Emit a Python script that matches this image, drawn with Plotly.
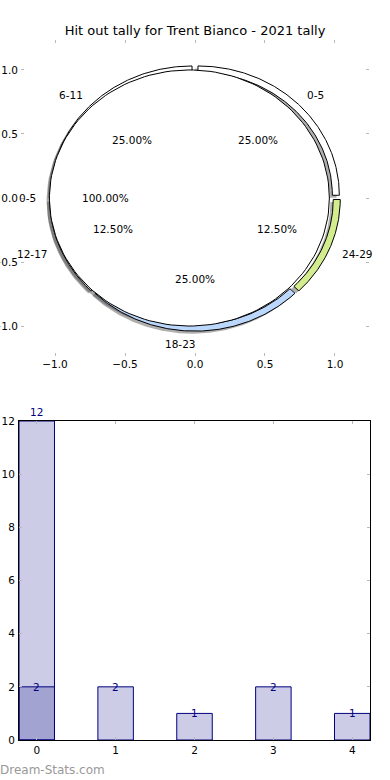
import numpy as np
import plotly.graph_objects as go

# ---------------- data ----------------
title_text = "Hit out tally for Trent Bianco - 2021 tally"
inner_labels = ["0-5"]
inner_values = [12]
outer_labels = ["0-5", "6-11", "12-17", "18-23", "24-29"]
outer_values = [2, 2, 1, 2, 1]
outer_colors = ["#ffffff", "#ffffff", "#ffffff", "#bcd7fc", "#d3ec8e"]
bar_x = [0, 1, 2, 3, 4]
bar_total = [12]          # first series (only at position 0)
bar_counts = [2, 2, 1, 2, 1]
pie_ticks = [-1.0, -0.5, 0.0, 0.5, 1.0]
bar_yticks = [0, 2, 4, 6, 8, 10, 12]

# ---------------- style ----------------
FONT = "DejaVu Sans"
INNER_R = 1.0
INNER_EXPLODE = 0.04
RING_OUT = 1.01
RING_W = 0.05
RING_EXPLODE = 0.03
SHADOW = (-0.02, -0.02)
NAVY = "#000080"

fig = go.Figure()


def wedge_xy(cx, cy, r_out, r_in, t1, t2, n=160):
    th = np.radians(np.linspace(t1, t2, n))
    xo = cx + r_out * np.cos(th)
    yo = cy + r_out * np.sin(th)
    if r_in <= 0:
        if abs(t2 - t1) >= 359.999:
            return list(xo), list(yo)
        return [cx] + list(xo) + [cx], [cy] + list(yo) + [cy]
    xi = cx + r_in * np.cos(th[::-1])
    yi = cy + r_in * np.sin(th[::-1])
    return list(xo) + list(xi) + [xo[0]], list(yo) + list(yi) + [yo[0]]


def pie_geometry(values, r_out, r_in, explode):
    tot = float(sum(values))
    out = []
    t = 0.0
    for v in values:
        t2 = t + 360.0 * v / tot
        mid = np.radians((t + t2) / 2)
        cx, cy = explode * np.cos(mid), explode * np.sin(mid)
        out.append((t, t2, mid, cx, cy, v / tot))
        t = t2
    return out


inner_geo = pie_geometry(inner_values, INNER_R, 0, INNER_EXPLODE)
outer_geo = pie_geometry(outer_values, RING_OUT, RING_OUT - RING_W, RING_EXPLODE)

# shadows (drawn below everything)
for (t1, t2, mid, cx, cy, f) in inner_geo:
    xs, ys = wedge_xy(cx + SHADOW[0], cy + SHADOW[1], INNER_R, 0, t1, t2)
    fig.add_trace(go.Scatter(x=xs, y=ys, fill="toself", mode="lines",
                             line=dict(width=0), fillcolor="rgba(77,77,77,0.5)",
                             hoverinfo="skip", showlegend=False, xaxis="x", yaxis="y"))
for (t1, t2, mid, cx, cy, f) in outer_geo:
    xs, ys = wedge_xy(cx + SHADOW[0], cy + SHADOW[1], RING_OUT, RING_OUT - RING_W, t1, t2)
    fig.add_trace(go.Scatter(x=xs, y=ys, fill="toself", mode="lines",
                             line=dict(width=0), fillcolor="rgba(77,77,77,0.45)",
                             hoverinfo="skip", showlegend=False, xaxis="x", yaxis="y"))

# outer ring
for (t1, t2, mid, cx, cy, f), col in zip(outer_geo, outer_colors):
    xs, ys = wedge_xy(cx, cy, RING_OUT, RING_OUT - RING_W, t1, t2)
    fig.add_trace(go.Scatter(x=xs, y=ys, fill="toself", mode="lines",
                             line=dict(width=1, color="black"), fillcolor=col,
                             hoverinfo="skip", showlegend=False, xaxis="x", yaxis="y"))

# inner pie (on top of the ring)
for (t1, t2, mid, cx, cy, f) in inner_geo:
    xs, ys = wedge_xy(cx, cy, INNER_R, 0, t1, t2)
    fig.add_trace(go.Scatter(x=xs, y=ys, fill="toself", mode="lines",
                             line=dict(width=1, color="black"), fillcolor="white",
                             hoverinfo="skip", showlegend=False, xaxis="x", yaxis="y"))

annotations = []


def pie_labels(geo, labels, r):
    for (t1, t2, mid, cx, cy, f), lab in zip(geo, labels):
        c, s = np.cos(mid), np.sin(mid)
        sg = int(np.sign(c))
        xa = {-1: "right", 0: "center", 1: "left"}[sg]
        annotations.append(dict(x=cx + 1.1 * r * c, y=cy + 1.1 * r * s, xref="x", yref="y",
                                text=lab, showarrow=False, xanchor=xa, yanchor="middle",
                                borderpad=0, xshift=-1.5 * sg,
                                font=dict(family=FONT, size=10.5, color="black")))
        annotations.append(dict(x=cx + 0.6 * r * c, y=cy + 0.6 * r * s, xref="x", yref="y",
                                text="%.2f%%" % (100 * f), showarrow=False,
                                xanchor="center", yanchor="middle",
                                font=dict(family=FONT, size=10.5, color="black")))


pie_labels(inner_geo, inner_labels, INNER_R)
pie_labels(outer_geo, outer_labels, RING_OUT)

# ---------------- bars ----------------
fig.add_trace(go.Bar(x=bar_x[:len(bar_total)], y=bar_total, width=0.45,
                     marker=dict(color="rgba(0,0,128,0.2)", line=dict(color=NAVY, width=1)),
                     xaxis="x2", yaxis="y2", showlegend=False, hoverinfo="skip"))
fig.add_trace(go.Bar(x=bar_x, y=bar_counts, width=0.45,
                     marker=dict(color="rgba(0,0,128,0.2)", line=dict(color=NAVY, width=1)),
                     xaxis="x2", yaxis="y2", showlegend=False, hoverinfo="skip"))

for xv, v in zip(bar_x, bar_total):
    annotations.append(dict(x=xv, y=v, xref="x2", yref="y2", text=str(v), showarrow=False,
                            xanchor="center", yanchor="bottom", yshift=1,
                            font=dict(family=FONT, size=10.5, color=NAVY)))
for xv, v in zip(bar_x, bar_counts):
    annotations.append(dict(x=xv, y=v, xref="x2", yref="y2", text=str(v), showarrow=False,
                            xanchor="center", yanchor="middle",
                            font=dict(family=FONT, size=10.5, color=NAVY)))

annotations.append(dict(x=0, y=1 - 770 / 780, xref="paper", yref="paper", text="Dream-Stats.com",
                        showarrow=False, xanchor="left", yanchor="middle", xshift=-2,
                        font=dict(family=FONT, size=12, color="#999999")))

W, H = 390, 780
tick_common = dict(ticks="inside", ticklen=3, tickwidth=1, tickcolor="#b8b8b8",
                   tickfont=dict(family=FONT, size=10.5, color="black"),
                   showgrid=False, zeroline=False, automargin=False)

fig.update_layout(
    template="none",
    width=W, height=H,
    margin=dict(l=0, r=0, t=0, b=0, pad=0),
    paper_bgcolor="white", plot_bgcolor="white",
    barmode="overlay",
    title=dict(text=title_text, x=0.5, xanchor="center", y=1 - 30 / H, yanchor="middle",
               automargin=False, font=dict(family=FONT, size=13, color="black")),
    xaxis=dict(domain=[21 / W, 369 / W], range=[-1.243, 1.243], tickvals=pie_ticks,
               tickformat=".1f", showline=False, mirror="ticks", anchor="y", **tick_common),
    yaxis=dict(domain=[1 - 356 / H, 1 - 40 / H], range=[-1.234, 1.234], tickvals=pie_ticks,
               tickformat=".1f", showline=False, mirror="ticks", anchor="x",
               ticklabelstandoff=2, **tick_common),
    xaxis2=dict(domain=[19 / W, 370 / W], range=[-0.225, 4.225], tickvals=bar_x,
                showline=True, linecolor="black", linewidth=1, mirror="allticks",
                anchor="y2", **tick_common),
    yaxis2=dict(domain=[1 - 740 / H, 1 - 421 / H], range=[0, 12], tickvals=bar_yticks,
                showline=True, linecolor="black", linewidth=1, mirror="allticks",
                anchor="x2", ticklabelstandoff=1, **tick_common),
    annotations=annotations,
)

fig.write_html("out.html", config={"displayModeBar": False},
               post_script="document.body.style.margin='0';document.body.style.overflow='hidden';")
